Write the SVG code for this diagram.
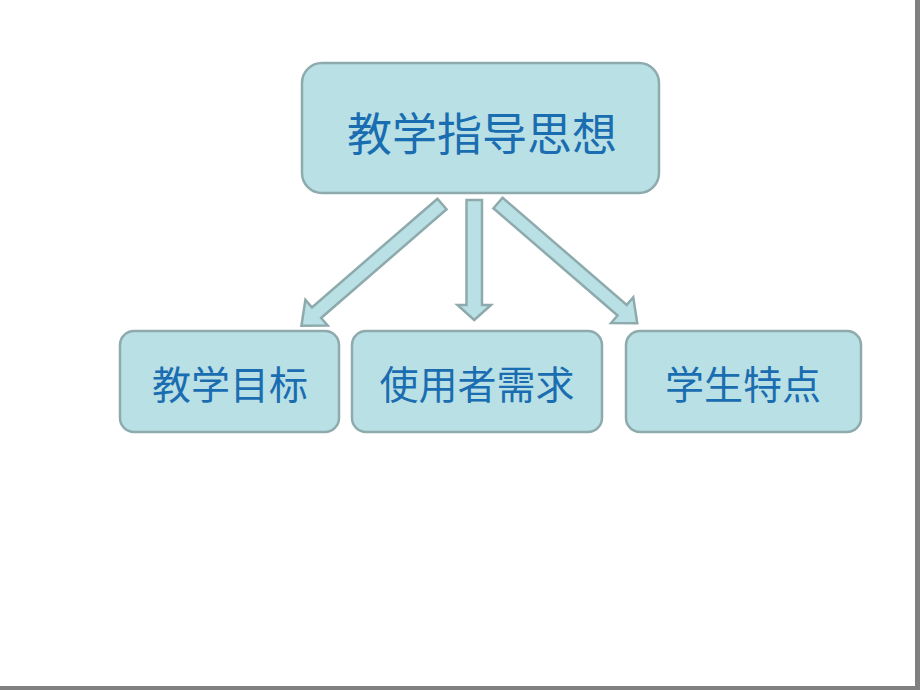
<svg xmlns="http://www.w3.org/2000/svg" width="920" height="690" viewBox="0 0 920 690">
<style>
.box{fill:#b9e0e4;stroke:#8eaaac;stroke-width:2.5}
.arr{fill:#b9e0e4;stroke:#8eaaac;stroke-width:2.5;stroke-linejoin:miter}
.t{font-family:"Noto Sans CJK SC","Noto Sans CJK TC",sans-serif;fill:#1a6db0;text-anchor:middle;dominant-baseline:central}
</style>
<rect x="0" y="0" width="920" height="690" fill="#ffffff"/>
<rect x="915" y="0" width="5" height="690" fill="#808080"/>
<rect x="0" y="686" width="920" height="4" fill="#808080"/>
<g id="connectors">
<polygon class="arr" transform="translate(442,204) rotate(139.1)" points="0,-7 166,-7 166,-17 186,0 166,17 166,7 0,7"/>
<polygon class="arr" points="466.5,200 482,200 482,305 491,305 474.2,320 457.5,305 466.5,305"/>
<polygon class="arr" transform="translate(498,203) rotate(40.8)" points="0,-7 164,-7 164,-17 184,0 164,17 164,7 0,7"/>
</g>
<g id="top">
<rect class="box" x="302" y="63" width="357" height="130" rx="20"/>
<text class="t" x="482" y="131" font-size="45">教学指导思想</text>
</g>
<g id="goal">
<rect class="box" x="120" y="331" width="219" height="101" rx="14"/>
<text class="t" x="230" y="382" font-size="39">教学目标</text>
</g>
<g id="needs">
<rect class="box" x="352" y="331" width="250" height="101" rx="14"/>
<text class="t" x="477" y="382" font-size="39">使用者需求</text>
</g>
<g id="students">
<rect class="box" x="626" y="331" width="235" height="101" rx="14"/>
<text class="t" x="743" y="382" font-size="39">学生特点</text>
</g>
</svg>
